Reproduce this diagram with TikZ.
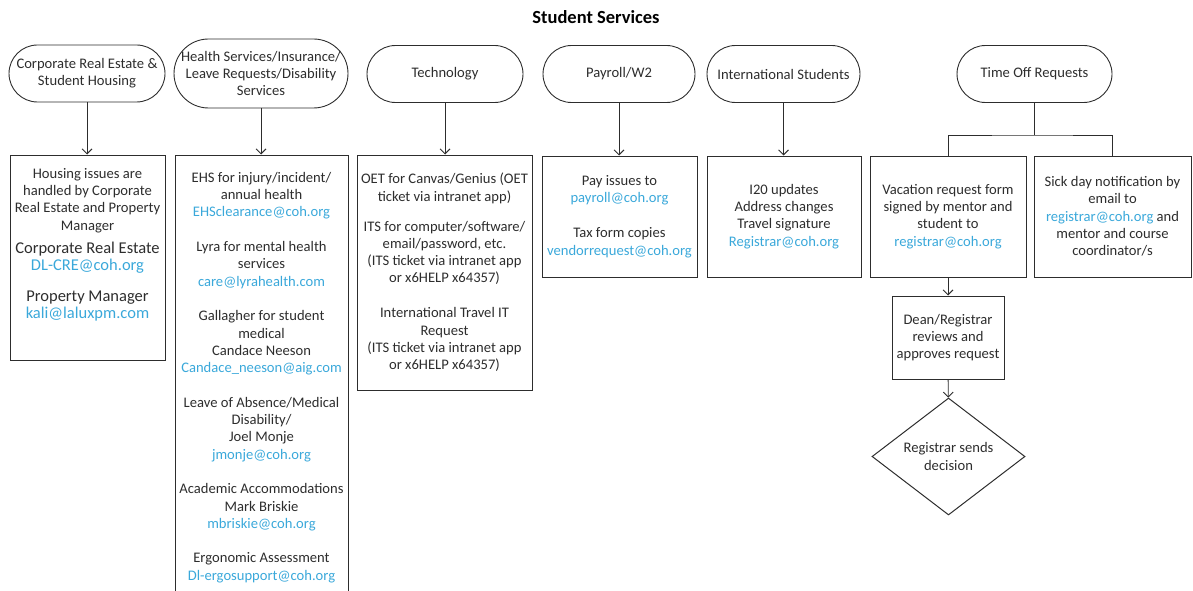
\documentclass[tikz,border=0pt]{standalone}
\usepackage{fontspec}
\setmainfont{Carlito}
\usetikzlibrary{shapes.geometric,arrows.meta}

\definecolor{maillink}{RGB}{58,168,218}
\definecolor{inkgray}{RGB}{45,45,45}
\newcommand{\mail}[1]{\textcolor{maillink}{#1}}
\newcommand{\bigline}{\fontsize{16.5}{19}\selectfont}

\begin{document}
\begin{tikzpicture}[
        x=1pt, y=-1pt,
        >={Straight Barb[length=5pt,width=10pt]},
        font=\fontsize{14.6}{17.3}\selectfont,
        term/.style={rectangle, draw=inkgray, line width=0.9pt, rounded corners=28.5pt, minimum height=57pt, inner sep=0pt, align=center, text=inkgray},
        infobox/.style={rectangle, draw=inkgray, line width=1pt, inner sep=0pt, align=center, text=inkgray},
        link/.style={->, draw=inkgray, line width=0.9pt},
        joint/.style={draw=inkgray, line width=0.9pt}
    ]
    \clip (0,0) rectangle (1193,591);

        % Titulo
        \node[font=\fontsize{18.5}{21}\selectfont\bfseries, text=black] (title) at (596,17) {Student Services};

        % Servicios
        \node[term, minimum width=156pt] (housing) at (87,73.5) {Corporate Real Estate \&\\Student Housing};
        \node[term, minimum width=174pt, minimum height=69pt, rounded corners=34.5pt] (health) at (261,73.5) {Health Services/Insurance/\\Leave Requests/Disability\\Services};
        \node[term, minimum width=156pt] (tech) at (445,74) {Technology};
        \node[term, minimum width=152pt] (payroll) at (619,74) {Payroll/W2};
        \node[term, minimum width=153pt] (intl) at (783.5,74) {International Students};
        \node[term, minimum width=155pt] (timeoff) at (1034.5,74) {Time Off Requests};

        % Contactos
        \node[infobox, minimum width=155pt, minimum height=205pt] (housingbox) at (87.5,257.5)
            {Housing issues are\\handled by Corporate\\Real Estate and Property\\Manager\\[6pt]
             {\bigline Corporate Real Estate}\\{\bigline\mail{DL-CRE@coh.org}}\\[13pt]
             {\bigline Property Manager}\\{\bigline\mail{kali@laluxpm.com}}\\[6pt]\strut};
        \node[infobox, minimum width=173pt, minimum height=445pt] (healthbox) at (261.5,377.5)
            {EHS for injury/incident/\\annual health\\\mail{EHSclearance@coh.org}\\[17.3pt]
             Lyra for mental health\\services\\\mail{care@lyrahealth.com}\\[17.3pt]
             Gallagher for student\\medical\\Candace Neeson\\\mail{Candace\_neeson@aig.com}\\[17.3pt]
             Leave of Absence/Medical\\Disability/\\Joel Monje\\\mail{jmonje@coh.org}\\[17.3pt]
             Academic Accommodations\\Mark Briskie\\\mail{mbriskie@coh.org}\\[17.3pt]
             Ergonomic Assessment\\\mail{Dl-ergosupport@coh.org}};
        \node[infobox, minimum width=175pt, minimum height=235pt] (techbox) at (444.5,272.5)
            {OET for Canvas/Genius (OET\\ticket via intranet app)\\[12.7pt]
             ITS for computer/software/\\email/password, etc.\\(ITS ticket via intranet app\\or x6HELP x64357)\\[17.7pt]
             International Travel IT\\Request\\(ITS ticket via intranet app\\or x6HELP x64357)};
        \node[infobox, minimum width=155pt, minimum height=121pt] (payrollbox) at (619.5,216.5)
            {Pay issues to\\\mail{payroll@coh.org}\\[17.7pt]Tax form copies\\\mail{vendorrequest@coh.org}};
        \node[infobox, minimum width=154pt, minimum height=121pt] (intlbox) at (784,216.5)
            {I20 updates\\Address changes\\Travel signature\\\mail{Registrar@coh.org}};
        \node[infobox, minimum width=156pt, minimum height=121pt] (vacation) at (948,216.5)
            {Vacation request form\\signed by mentor and\\student to\\\mail{registrar@coh.org}};
        \node[infobox, minimum width=157pt, minimum height=121pt] (sickday) at (1112.5,216.5)
            {Sick day notification by\\email to\\\mail{registrar@coh.org} and\\mentor and course\\coordinator/s};
        \node[infobox, minimum width=112pt, minimum height=83pt] (review) at (948,337.5)
            {Dean/Registrar\\reviews and\\approves request};
        \node[infobox, diamond, aspect=1.3, minimum width=153pt, minimum height=117pt] (decision) at (948.5,456.5)
            {Registrar sends\\decision};

        % Flechas
        \draw[link] (housing) -- (housing |- housingbox.north);
        \draw[link] (health) -- (health |- healthbox.north);
        \draw[link] (tech) -- (tech |- techbox.north);
        \draw[link] (payroll) -- (payroll |- payrollbox.north);
        \draw[link] (intl) -- (intl |- intlbox.north);

        \coordinate (split) at (1034.5,135);
        \draw[joint] (timeoff) -- (split);
        \draw[joint] (vacation.north) |- (split) -| (sickday.north);
        \draw[link] (vacation) -- (review);
        \draw[link] (review) -- (decision);

    \end{tikzpicture}
\end{document}
